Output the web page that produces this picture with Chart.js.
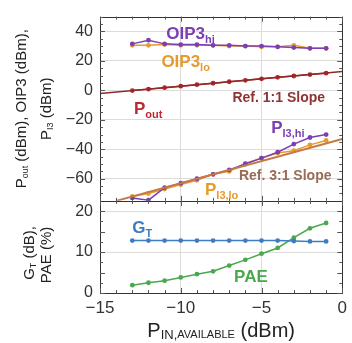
<!DOCTYPE html>
<html>
<head>
<meta charset="utf-8">
<script src="https://cdn.jsdelivr.net/npm/chart.js@4.4.1/dist/chart.umd.min.js"></script>
<style>
  html, body { margin: 0; padding: 0; background: #fff; }
  #wrap { width: 352px; height: 343px; }
</style>
</head>
<body>
<div id="wrap"><canvas id="chart" width="352" height="343"></canvas></div>
<script>
// input power sweep (dBm)
const pinDbm = [-13, -12, -11, -10, -9, -8, -7, -6, -5, -4, -3, -2, -1];
const pOut   = [-0.2, 0.8, 1.8, 2.8, 3.8, 4.8, 5.8, 6.8, 7.8, 8.8, 9.7, 10.7, 11.6];
const oip3Hi = [31.5, 34, 31.5, 31, 31, 30.5, 30.5, 30, 30, 29.5, 29, 28.5, 28.5];
const oip3Lo = [30.5, 30.5, 31, 30.5, 30.5, 30.5, 30, 30, 29.5, 29.5, 30.5, 28.5, 28.5];
const pI3Hi  = [-73, -74.5, -66, -63, -60, -57, -54, -50, -46, -42, -36.5, -32, -30];
const pI3Lo  = [-72, -70, -67, -64, -61, -57, -55, -49.5, -46, -42.5, -41, -37, -34];
const gainT  = [12.8, 12.8, 12.8, 12.8, 12.8, 12.8, 12.8, 12.8, 12.8, 12.8, 12.7, 12.6, 12.6];
const pae    = [1.9, 2.5, 3.0, 3.8, 4.6, 5.3, 6.7, 8.1, 9.6, 11.0, 13.5, 15.8, 17.1];

// reference slopes
const ref11X = [-15, 0];
const ref11Y = [-2.2, 12.8];
const ref31X = [-14, 0];
const ref31Y = [-75, -33];

const xTicks = [-15, -10, -5, 0];
const topTicks = [-60, -40, -20, 0, 20, 40];
const bottomTicks = [0, 5, 10, 15, 20];

const FONT = "'Liberation Sans', Arial, sans-serif";
const pts = (xs, ys) => xs.map((x, i) => ({ x: x, y: ys[i] }));

function series(data, color, axis, extra) {
    return Object.assign({
        data: data,
        borderColor: color,
        backgroundColor: color,
        borderWidth: 1.5,
        pointRadius: 2.4,
        pointHoverRadius: 2.4,
        pointBorderWidth: 0,
        tension: 0,
        yAxisID: axis
    }, extra || {});
}

// in-plot labels, anchored in data units: [main, sub, colour, x, y, axis, size]
const plotLabels = [
    ['OIP3', 'hi', '#7b3fb4', -10.9, 34.7, 'yTop', 17],
    ['OIP3', 'lo', '#e89a2c', -11.2, 16, 'yTop', 17],
    ['P', 'out', '#c0282d', -12.9, -16, 'yTop', 17],
    ['Ref. 1:1 Slope', '', '#8e3434', -6.8, -8, 'yTop', 14],
    ['P', 'I3,hi', '#7b3fb4', -4.4, -29.3, 'yTop', 17],
    ['Ref. 3:1 Slope', '', '#9a6b55', -6.4, -60.7, 'yTop', 14],
    ['P', 'I3,lo', '#e89a2c', -8.5, -70.7, 'yTop', 17],
    ['G', 'T', '#3d7cbf', -13, 14.6, 'yBot', 17],
    ['PAE', '', '#4aa84f', -6.7, 2.6, 'yBot', 17]
];

// draws runs of text with different sizes/offsets
function drawRuns(ctx, runs, x, y, align) {
    let total = 0;
    runs.forEach(r => {
        ctx.font = (r.weight || 'normal') + ' ' + r.size + 'px ' + FONT;
        r.w = ctx.measureText(r.t).width;
        total += r.w;
    });
    let cx = align === 'center' ? x - total / 2 : x;
    runs.forEach(r => {
        ctx.font = (r.weight || 'normal') + ' ' + r.size + 'px ' + FONT;
        ctx.fillText(r.t, cx, y + (r.dy || 0));
        cx += r.w;
    });
}

const decorPlugin = {
    id: 'decor',
    afterDraw(chart) {
        const ctx = chart.ctx;
        const xs = chart.scales.x, yt = chart.scales.yTop, yb = chart.scales.yBot;
        ctx.save();

        // panel frames
        ctx.strokeStyle = '#333';
        ctx.lineWidth = 1;
        [yt, yb].forEach(s => {
            ctx.strokeRect(Math.round(xs.left) + 0.5, Math.round(s.top) + 0.5,
                Math.round(xs.right - xs.left), Math.round(s.bottom - s.top));
        });

        // minor / major tick marks
        ctx.strokeStyle = '#555';
        for (let v = -15; v <= 0; v++) {
            const px = Math.round(xs.getPixelForValue(v)) + 0.5;
            const len = v % 5 === 0 ? 5 : 3;
            [[yt.top, 1], [yt.bottom, -1], [yt.bottom, 1], [yb.bottom, -1]].forEach(([y0, d]) => {
                ctx.beginPath(); ctx.moveTo(px, y0); ctx.lineTo(px, y0 + d * len); ctx.stroke();
            });
        }
        const yMarks = (s, from, to, step, major) => {
            for (let v = from; v <= to; v += step) {
                const py = Math.round(s.getPixelForValue(v)) + 0.5;
                const len = Math.abs(v % major) < 1e-6 ? 5 : 3;
                ctx.beginPath(); ctx.moveTo(xs.left, py); ctx.lineTo(xs.left + len, py); ctx.stroke();
                ctx.beginPath(); ctx.moveTo(xs.right, py); ctx.lineTo(xs.right - len, py); ctx.stroke();
            }
        };
        yMarks(yt, -70, 50, 5, 20);
        yMarks(yb, 0, 20, 2.5, 5);

        // in-plot labels
        ctx.textBaseline = 'alphabetic';
        plotLabels.forEach(([main, sub, color, vx, vy, axis, size]) => {
            const s = chart.scales[axis];
            ctx.fillStyle = color;
            const runs = [{ t: main, size: size, weight: 'bold' }];
            if (sub) runs.push({ t: sub, size: Math.round(size * 0.62), weight: 'bold', dy: 4 });
            drawRuns(ctx, runs, xs.getPixelForValue(vx), s.getPixelForValue(vy), 'left');
        });

        // axis titles
        ctx.fillStyle = '#222';
        ctx.textBaseline = 'middle';
        drawRuns(ctx, [
            { t: 'P', size: 20 },
            { t: 'IN,', size: 13, dy: 4 },
            { t: 'AVAILABLE', size: 11, dy: 4 },
            { t: ' (dBm)', size: 20 }
        ], (xs.left + xs.right) / 2, 331, 'center');

        const vtitle = (runs, cx, cy) => {
            ctx.save();
            ctx.translate(cx, cy);
            ctx.rotate(-Math.PI / 2);
            drawRuns(ctx, runs, 0, 0, 'center');
            ctx.restore();
        };
        const topMid = (yt.top + yt.bottom) / 2, botMid = (yb.top + yb.bottom) / 2;
        vtitle([{ t: 'P', size: 15 }, { t: 'out', size: 9, dy: 4 }, { t: ' (dBm), OIP3 (dBm),', size: 15 }], 22, topMid);
        vtitle([{ t: 'P', size: 15 }, { t: 'I3', size: 9, dy: 4 }, { t: ' (dBm)', size: 15 }], 47, topMid);
        vtitle([{ t: 'G', size: 15 }, { t: 'T', size: 9, dy: 4 }, { t: ' (dB),', size: 15 }], 30, botMid + 6);
        vtitle([{ t: 'PAE (%)', size: 15 }], 47, botMid + 8);

        ctx.restore();
    }
};

const minus = v => String(v).replace('-', '\u2212');

new Chart(document.getElementById('chart'), {
    type: 'line',
    data: {
        datasets: [
            series(pts(ref11X, ref11Y), '#8e2a2a', 'yTop', { pointRadius: 0 }),
            series(pts(ref31X, ref31Y), '#c47a45', 'yTop', { pointRadius: 0, borderWidth: 2 }),
            series(pts(pinDbm, pOut), '#b8232a', 'yTop'),
            series(pts(pinDbm, oip3Hi), '#7b3fb4', 'yTop'),
            series(pts(pinDbm, oip3Lo), '#e89a2c', 'yTop'),
            series(pts(pinDbm, pI3Hi), '#7b3fb4', 'yTop'),
            series(pts(pinDbm, pI3Lo), '#e89a2c', 'yTop'),
            series(pts(pinDbm, gainT), '#3d7cbf', 'yBot'),
            series(pts(pinDbm, pae), '#4aa84f', 'yBot')
        ]
    },
    options: {
        responsive: false,
        animation: false,
        layout: { padding: { top: 10, right: 5, left: 0, bottom: 0 } },
        plugins: { legend: { display: false }, tooltip: { enabled: false } },
        scales: {
            x: {
                type: 'linear',
                min: -15,
                max: 0,
                afterBuildTicks: s => { s.ticks = xTicks.map(v => ({ value: v })); },
                afterFit: s => { s.height = 50; },
                grid: { color: '#dcdcdc', drawTicks: false },
                border: { display: false },
                ticks: {
                    padding: 5,
                    color: '#333',
                    font: { family: FONT, size: 17 },
                    maxRotation: 0,
                    callback: v => minus(v)
                }
            },
            yBot: {
                type: 'linear',
                position: 'left',
                stack: 'panels',
                stackWeight: 1,
                min: 0,
                max: 22.5,
                afterBuildTicks: s => { s.ticks = bottomTicks.map(v => ({ value: v })); },
                afterFit: s => { s.width = 100; },
                grid: { color: '#dcdcdc', drawTicks: false },
                border: { display: false },
                ticks: { padding: 7, color: '#333', font: { family: FONT, size: 16 } }
            },
            yTop: {
                type: 'linear',
                position: 'left',
                stack: 'panels',
                stackWeight: 2,
                min: -75,
                max: 50,
                afterBuildTicks: s => { s.ticks = topTicks.map(v => ({ value: v })); },
                afterFit: s => { s.width = 100; },
                grid: { color: '#dcdcdc', drawTicks: false },
                border: { display: false },
                ticks: { padding: 7, color: '#333', font: { family: FONT, size: 16 }, callback: v => minus(v) }
            }
        }
    },
    plugins: [decorPlugin]
});
</script>
</body>
</html>
